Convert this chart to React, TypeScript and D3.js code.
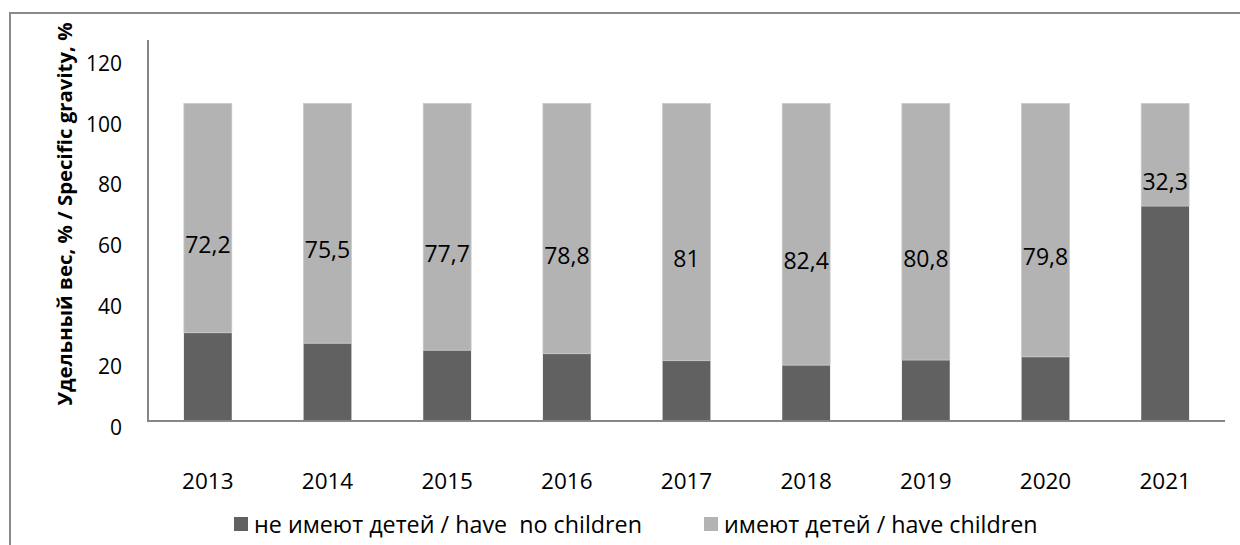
import { useEffect, useRef } from 'react';
import * as d3 from 'd3';

const YEARS = ['2013', '2014', '2015', '2016', '2017', '2018', '2019', '2020', '2021'];
// не имеют детей / have no children
const NO_CHILDREN = [27.8, 24.5, 22.3, 21.2, 19, 17.6, 19.2, 20.2, 67.7];
// имеют детей / have children (data labels)
const HAVE_CHILDREN = [72.2, 75.5, 77.7, 78.8, 81, 82.4, 80.8, 79.8, 32.3];
const LABELS = ['72,2', '75,5', '77,7', '78,8', '81', '82,4', '80,8', '79,8', '32,3'];
const Y_TICKS = [0, 20, 40, 60, 80, 100, 120];

const W = 1240;
const H = 545;
const FONT = '"Open Sans", "Noto Sans", sans-serif';
const DARK = '#616161';
const LIGHT = '#b3b3b3';
const AXIS = '#868686';

export default function App() {
  const svgRef = useRef<SVGSVGElement>(null);

  useEffect(() => {
    if (!svgRef.current) return;
    const svg = d3.select(svgRef.current);
    svg.selectAll('*').remove();

    const x = d3.scaleBand().domain(YEARS).range([148, 1225]).paddingInner(0.6).paddingOuter(0.3);
    const y = d3.scaleLinear().domain([0, 120]).range([421, 40]);
    // tick labels sit slightly off the gridline positions in the source
    const yLab = d3.scaleLinear().domain([0, 120]).range([427, 63]);

    svg.append('rect').attr('width', W).attr('height', H).attr('fill', '#fff');

    // outer frame (top and left edges only visible)
    svg.append('path')
      .attr('d', `M10,${H} L10,13 L${W},13`)
      .attr('fill', 'none')
      .attr('stroke', '#8a8a8a')
      .attr('stroke-width', 2);

    const rows = YEARS.map((yr, i) => ({ yr, a: NO_CHILDREN[i], b: HAVE_CHILDREN[i], lab: LABELS[i] }));

    const g = svg.append('g');
    g.selectAll('rect.dark')
      .data(rows)
      .join('rect')
      .attr('class', 'dark')
      .attr('x', (d) => x(d.yr)!)
      .attr('width', x.bandwidth())
      .attr('y', (d) => y(d.a))
      .attr('height', (d) => y(0) - y(d.a))
      .attr('fill', DARK);

    g.selectAll('rect.light')
      .data(rows)
      .join('rect')
      .attr('class', 'light')
      .attr('x', (d) => x(d.yr)!)
      .attr('width', x.bandwidth())
      .attr('y', (d) => y(d.a + d.b))
      .attr('height', (d) => y(d.a) - y(d.a + d.b))
      .attr('fill', LIGHT)
      .attr('stroke', '#c9c9c9')
      .attr('stroke-width', 0.8);

    // data labels
    g.selectAll('text.val')
      .data(rows)
      .join('text')
      .attr('class', 'val')
      .attr('x', (d) => x(d.yr)! + x.bandwidth() / 2)
      .attr('y', (d) => y(d.a + d.b / 2) + 26)
      .attr('text-anchor', 'middle')
      .attr('dominant-baseline', 'central')
      .attr('font-family', FONT)
      .attr('font-size', 23)
      .attr('fill', '#000')
      .text((d) => d.lab);

    // axes lines
    svg.append('line')
      .attr('x1', 148).attr('x2', 148)
      .attr('y1', y(120)).attr('y2', y(0))
      .attr('stroke', AXIS).attr('stroke-width', 2);
    svg.append('line')
      .attr('x1', 147).attr('x2', 1225)
      .attr('y1', y(0)).attr('y2', y(0))
      .attr('stroke', AXIS).attr('stroke-width', 2);

    // y tick labels
    svg.selectAll('text.yt')
      .data(Y_TICKS)
      .join('text')
      .attr('class', 'yt')
      .attr('x', 122)
      .attr('y', (d) => yLab(d))
      .attr('text-anchor', 'end')
      .attr('dominant-baseline', 'central')
      .attr('font-family', FONT)
      .attr('font-size', 21)
      .attr('fill', '#000')
      .text((d) => d);

    // x tick labels
    svg.selectAll('text.xt')
      .data(YEARS)
      .join('text')
      .attr('class', 'xt')
      .attr('x', (d) => x(d)! + x.bandwidth() / 2)
      .attr('y', 480)
      .attr('text-anchor', 'middle')
      .attr('dominant-baseline', 'central')
      .attr('font-family', FONT)
      .attr('font-size', 22.5)
      .attr('fill', '#000')
      .text((d) => d);

    // y axis title
    svg.append('text')
      .attr('transform', 'translate(64,214) rotate(-90)')
      .attr('text-anchor', 'middle')
      .attr('dominant-baseline', 'central')
      .attr('font-family', FONT)
      .attr('font-size', 20.4)
      .attr('font-weight', 'bold')
      .attr('fill', '#000')
      .text('Удельный вес, % / Specific gravity, %');

    // legend
    const legend = [
      { label: 'не имеют детей / have\u00a0 no children', color: DARK, x: 234 },
      { label: 'имеют детей / have children', color: LIGHT, x: 704 },
    ];
    const lg = svg.selectAll('g.lg').data(legend).join('g').attr('class', 'lg')
      .attr('transform', (d) => `translate(${d.x},517)`);
    lg.append('rect').attr('width', 14).attr('height', 14).attr('fill', (d) => d.color);
    lg.append('text')
      .attr('x', 20)
      .attr('y', 7)
      .attr('dominant-baseline', 'central')
      .attr('font-family', FONT)
      .attr('font-size', 23.3)
      .attr('fill', '#000')
      .text((d) => d.label);
  }, []);

  return (
    <div style={{ position: 'fixed', left: 0, top: 0, width: W, height: H, background: '#fff' }}>
      <svg ref={svgRef} width={W} height={H} style={{ display: 'block' }} />
    </div>
  );
}
